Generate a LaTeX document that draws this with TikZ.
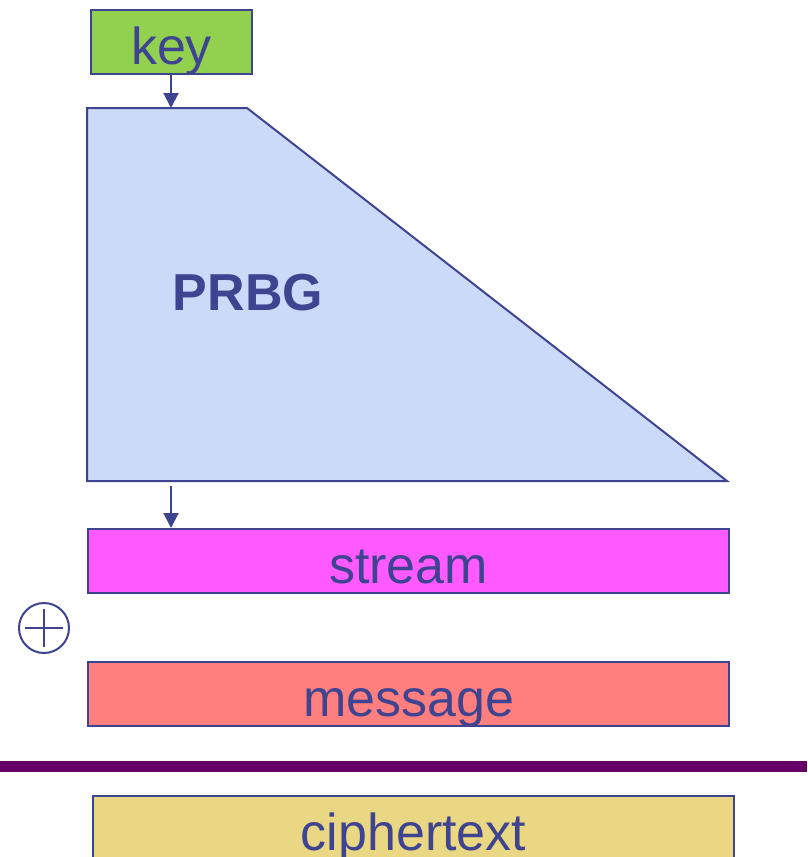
\documentclass[tikz,border=0pt]{standalone}
\usepackage{fontspec}
\setmainfont{Liberation Sans}
\usetikzlibrary{arrows.meta}
\definecolor{ink}{HTML}{3F4491}
\definecolor{keyfill}{HTML}{92D050}
\definecolor{prbgfill}{HTML}{CCDAFA}
\definecolor{streamfill}{HTML}{FF5AFF}
\definecolor{msgfill}{HTML}{FF7F7F}
\definecolor{ciphfill}{HTML}{EAD784}
\definecolor{barcol}{HTML}{660066}
\tikzset{
  box/.style={draw=ink, line width=2pt, rectangle, inner sep=0pt, anchor=north west,
    minimum height=64pt, text=ink, text height=50pt, text depth=6pt,
    font=\fontsize{52}{60}\selectfont},
  conn/.style={draw=ink, line width=2pt, -{Triangle[width=15pt,length=15pt]}},
}
\begin{document}
\begin{tikzpicture}[x=1pt,y=-1pt]
\clip (0,0) rectangle (807,857);
\fill[white] (0,0) rectangle (807,857);
% key
\node[box, fill=keyfill, minimum width=161pt] (key) at (90,9) {key};
% PRBG trapezoid
\draw[ink, line width=2pt, fill=prbgfill, line join=miter] (87,108) -- (247,108) -- (727,481) -- (87,481) -- cycle;
\node[text=ink, font=\fontsize{52}{60}\selectfont\bfseries, anchor=base, inner sep=0pt] (prbg) at (248,310) {PRBG};
\coordinate (prbgtop) at (171,108);
\coordinate (prbgout) at (171,486);
% stream
\node[box, fill=streamfill, minimum width=641pt] (stream) at (87,528) {stream};
% oplus
\draw[ink, line width=2pt] (44,628) circle[radius=25];
\draw[ink, line width=2pt] (25,628) -- (63,628) (44,609) -- (44,647);
% message
\node[box, fill=msgfill, minimum width=641pt] (message) at (87,661) {message};
% bar
\fill[barcol] (0,761) rectangle (807,772);
% ciphertext
\node[box, fill=ciphfill, minimum width=641pt] (cipher) at (92,795) {ciphertext};
% connectors
\draw[conn] (key.south -| prbgtop) -- (prbgtop);
\draw[conn] (prbgout) -- (stream.north -| prbgout);
\end{tikzpicture}
\end{document}
